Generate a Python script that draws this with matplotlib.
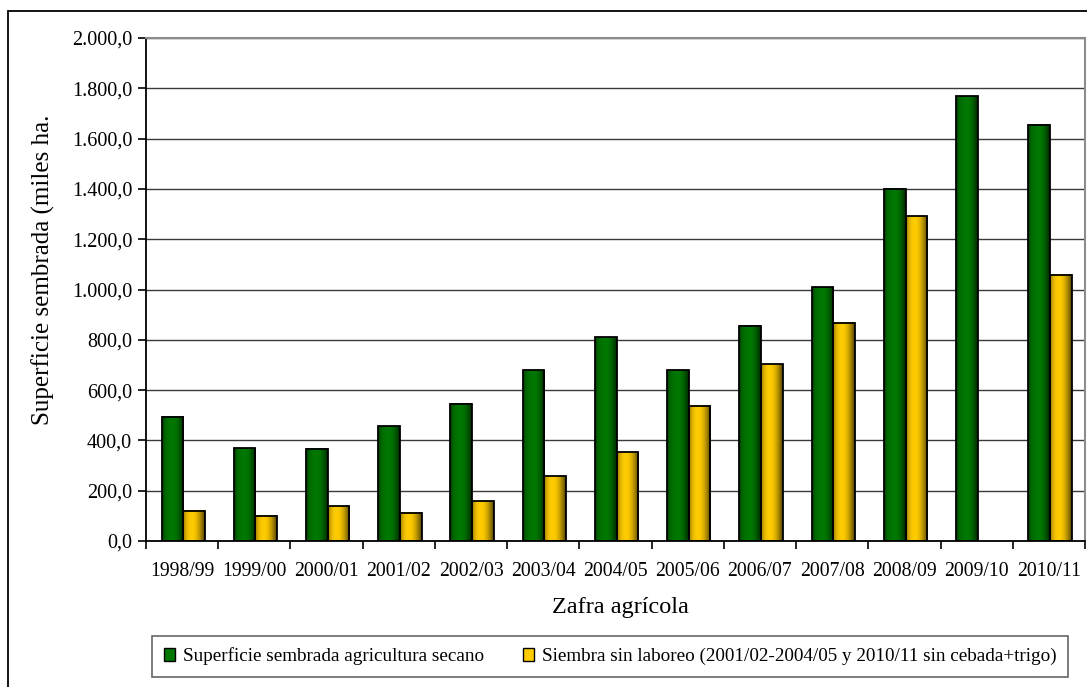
import numpy as np
import matplotlib
matplotlib.use("Agg")
import matplotlib.pyplot as plt
from matplotlib.patches import Rectangle
from matplotlib.colors import to_rgb
from matplotlib.ticker import FixedLocator, FuncFormatter

# Campaigns and sown areas (thousand hectares)
zafras = ["1998/99", "1999/00", "2000/01", "2001/02", "2002/03", "2003/04", "2004/05",
          "2005/06", "2006/07", "2007/08", "2008/09", "2009/10", "2010/11"]
secano = [495, 368, 367, 456, 545, 679, 810, 679, 855, 1009, 1401, 1769, 1655]
sin_laboreo = [120, 101, 138, 113, 158, 258, 353, 537, 703, 867, 1292, np.nan, 1059]

label_secano = "Superficie sembrada agricultura secano"
label_laboreo = "Siembra sin laboreo (2001/02-2004/05 y 2010/11 sin cebada+trigo)"
y_ticks = [0, 200, 400, 600, 800, 1000, 1200, 1400, 1600, 1800, 2000]

GREEN = "#007800"
YELLOW = "#FFCC00"

plt.rcParams["font.family"] = ["Liberation Serif", "DejaVu Serif"]

W, H = 1087, 687
fig = plt.figure(figsize=(W / 100, H / 100), dpi=100)

# outer chart frame
fig.patches.append(Rectangle((8 / W, -0.05), 1.2, (H - 11) / H + 0.05,
                             transform=fig.transFigure, fill=False,
                             edgecolor="black", linewidth=1.3, zorder=0))

ax = fig.add_axes([146 / W, (H - 541) / H, 939 / W, 503 / H])


def shaded_bar(ax, x0, width, height, base, peak):
    """Bar with a horizontal cylinder-like shading: dark edges, bright core."""
    t = np.linspace(0, 1, 64)
    left = np.clip(t / peak, 0, 1)
    right = np.clip((1 - t) / (1 - peak), 0, 1)
    prof = np.where(t <= peak, np.sin(0.5 * np.pi * left) ** 0.35,
                    np.sin(0.5 * np.pi * right) ** 0.9)
    f = 0.3 + 0.7 * prof
    rgb = np.array(to_rgb(base))
    img = (f[:, None] * rgb[None, :])[None, :, :]
    ax.imshow(img, extent=[x0, x0 + width, 0, height], aspect="auto",
              interpolation="bilinear", zorder=2)
    ax.add_patch(Rectangle((x0, 0), width, height, fill=False,
                           edgecolor="black", linewidth=1.3, zorder=3))


n = len(zafras)
bw = 0.3
for i in range(n):
    c = i + 0.515
    shaded_bar(ax, c - bw, bw, secano[i], GREEN, 0.5)
    if not np.isnan(sin_laboreo[i]):
        shaded_bar(ax, c, bw, sin_laboreo[i], YELLOW, 0.4)

ax.set_xlim(0, n)
ax.set_ylim(0, 2000)

# grid
ax.set_axisbelow(True)
ax.yaxis.grid(True, color="#3a3a3a", linewidth=1.0, zorder=0)

# spines
for s in ("top", "right"):
    ax.spines[s].set_color("#8c8c8c")
    ax.spines[s].set_linewidth(1.5)
for s in ("left", "bottom"):
    ax.spines[s].set_color("black")
    ax.spines[s].set_linewidth(1.3)

# y axis
ax.yaxis.set_major_locator(FixedLocator(y_ticks))
ax.yaxis.set_major_formatter(FuncFormatter(
    lambda v, p: f"{v:,.1f}".replace(",", "X").replace(".", ",").replace("X", ".")))
ax.tick_params(axis="y", direction="out", length=6, width=1.2, labelsize=14.5, pad=4)

# x axis: ticks at category boundaries, labels at centers
ax.xaxis.set_major_locator(FixedLocator(np.arange(0, n + 1)))
ax.xaxis.set_major_formatter(FuncFormatter(lambda v, p: ""))
ax.xaxis.set_minor_locator(FixedLocator(np.arange(n) + 0.5))
ax.set_xticklabels(zafras, minor=True)
ax.tick_params(axis="x", which="major", direction="out", length=6, width=1.2)
ax.tick_params(axis="x", which="minor", length=0, labelsize=14.2, pad=15)

fig.text(43 / W, 1 - 270 / H, "Superficie sembrada (miles ha.", rotation=90,
         ha="center", va="center", fontsize=18)
fig.text(620 / W, 1 - 608 / H, "Zafra agrícola", ha="center", va="center", fontsize=17.5)

handles = [Rectangle((0, 0), 1, 1, facecolor=GREEN, edgecolor="black", linewidth=1.0),
           Rectangle((0, 0), 1, 1, facecolor=YELLOW, edgecolor="black", linewidth=1.0)]
leg = fig.legend(handles, [label_secano, label_laboreo], ncol=2,
                 loc="upper left", bbox_to_anchor=(152 / W, 1 - 636 / H),
                 bbox_transform=fig.transFigure, fontsize=13.8,
                 frameon=True, fancybox=False, edgecolor="#404040",
                 handlelength=0.62, handleheight=0.62, handletextpad=0.4,
                 columnspacing=2.0, borderpad=0.6, borderaxespad=0)
leg.get_frame().set_linewidth(1.2)

fig.savefig("out.png", dpi=100)
